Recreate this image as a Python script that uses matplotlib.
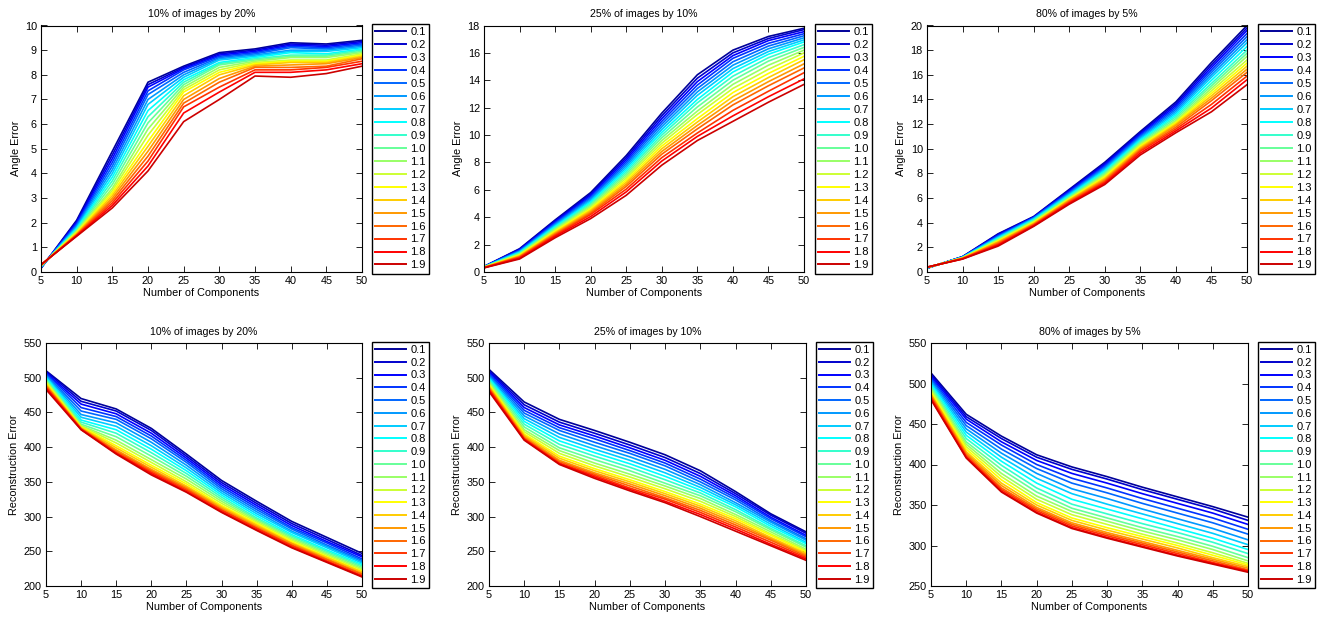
# ============================================================
# Angle / reconstruction error vs number of components
# 3 noise settings x 2 error measures, 19 sigma levels each
# ============================================================

import numpy as np
import matplotlib.pyplot as plt

# ============================================================
# Data (rows = number of components, columns = sigma 0.1 .. 1.9)
# ============================================================

components = [5, 10, 15, 20, 25, 30, 35, 40, 45, 50]
sigma_labels = ["0.1", "0.2", "0.3", "0.4", "0.5", "0.6", "0.7", "0.8", "0.9", "1.0",
                "1.1", "1.2", "1.3", "1.4", "1.5", "1.6", "1.7", "1.8", "1.9"]

panel_titles = ["10% of images by 20%", "25% of images by 10%", "80% of images by 5%"]

angle_10pct = [
    [0.15, 0.16, 0.17, 0.18, 0.19, 0.2, 0.21, 0.22, 0.23, 0.24, 0.25, 0.26, 0.27, 0.27, 0.28, 0.28, 0.29, 0.29, 0.3],
    [2.1, 2.05, 2.0, 1.95, 1.9, 1.85, 1.8, 1.76, 1.72, 1.68, 1.65, 1.62, 1.59, 1.56, 1.53, 1.51, 1.49, 1.47, 1.45],
    [4.9, 4.75, 4.6, 4.45, 4.3, 4.15, 4.0, 3.85, 3.7, 3.55, 3.4, 3.3, 3.2, 3.1, 3.0, 2.9, 2.8, 2.7, 2.6],
    [7.7, 7.6, 7.5, 7.35, 7.2, 7.0, 6.8, 6.55, 6.3, 6.05, 5.8, 5.55, 5.3, 5.1, 4.9, 4.7, 4.5, 4.3, 4.1],
    [8.35, 8.3, 8.25, 8.2, 8.1, 8.0, 7.9, 7.8, 7.7, 7.6, 7.5, 7.4, 7.3, 7.15, 7.0, 6.85, 6.7, 6.45, 6.1],
    [8.9, 8.85, 8.8, 8.75, 8.7, 8.65, 8.6, 8.5, 8.45, 8.4, 8.3, 8.2, 8.1, 8.0, 7.85, 7.7, 7.5, 7.3, 7.0],
    [9.05, 9.0, 8.95, 8.9, 8.85, 8.8, 8.75, 8.7, 8.65, 8.6, 8.55, 8.5, 8.45, 8.4, 8.35, 8.3, 8.2, 8.1, 7.95],
    [9.3, 9.25, 9.2, 9.15, 9.1, 9.0, 8.95, 8.9, 8.8, 8.75, 8.7, 8.6, 8.55, 8.5, 8.4, 8.3, 8.2, 8.1, 7.9],
    [9.25, 9.2, 9.15, 9.1, 9.05, 9.0, 8.95, 8.85, 8.8, 8.75, 8.7, 8.6, 8.55, 8.5, 8.45, 8.35, 8.3, 8.2, 8.05],
    [9.4, 9.35, 9.3, 9.25, 9.2, 9.15, 9.1, 9.05, 9.0, 8.95, 8.9, 8.85, 8.8, 8.75, 8.7, 8.65, 8.55, 8.45, 8.35],
]

angle_25pct = [
    [0.4, 0.4, 0.39, 0.39, 0.38, 0.38, 0.37, 0.37, 0.36, 0.36, 0.35, 0.35, 0.34, 0.34, 0.33, 0.32, 0.32, 0.31, 0.3],
    [1.7, 1.66, 1.62, 1.58, 1.54, 1.5, 1.46, 1.42, 1.38, 1.34, 1.3, 1.26, 1.22, 1.18, 1.14, 1.1, 1.06, 1.0, 0.95],
    [3.8, 3.73, 3.66, 3.59, 3.52, 3.45, 3.38, 3.31, 3.24, 3.17, 3.1, 3.03, 2.96, 2.89, 2.82, 2.75, 2.68, 2.6, 2.5],
    [5.8, 5.7, 5.6, 5.5, 5.4, 5.3, 5.2, 5.1, 5.0, 4.9, 4.8, 4.7, 4.6, 4.5, 4.4, 4.3, 4.2, 4.05, 3.9],
    [8.5, 8.35, 8.2, 8.05, 7.9, 7.75, 7.6, 7.45, 7.3, 7.15, 7.0, 6.85, 6.7, 6.55, 6.4, 6.25, 6.05, 5.85, 5.6],
    [11.6, 11.4, 11.2, 11.0, 10.8, 10.6, 10.4, 10.2, 10.0, 9.8, 9.6, 9.4, 9.2, 9.0, 8.8, 8.6, 8.35, 8.1, 7.8],
    [14.4, 14.15, 13.9, 13.65, 13.4, 13.15, 12.9, 12.6, 12.35, 12.05, 11.75, 11.5, 11.2, 10.95, 10.7, 10.45, 10.15, 9.9, 9.6],
    [16.2, 16.0, 15.8, 15.6, 15.35, 15.1, 14.85, 14.6, 14.3, 14.0, 13.7, 13.4, 13.1, 12.8, 12.5, 12.2, 11.8, 11.4, 11.0],
    [17.2, 17.05, 16.9, 16.7, 16.5, 16.3, 16.1, 15.9, 15.65, 15.4, 15.1, 14.8, 14.5, 14.2, 13.9, 13.6, 13.2, 12.8, 12.4],
    [17.8, 17.7, 17.55, 17.4, 17.25, 17.1, 16.95, 16.8, 16.6, 16.4, 16.2, 16.0, 15.75, 15.5, 15.2, 14.9, 14.55, 14.1, 13.7],
]

angle_80pct = [
    [0.3, 0.31, 0.31, 0.32, 0.32, 0.33, 0.33, 0.34, 0.34, 0.35, 0.35, 0.36, 0.36, 0.37, 0.37, 0.38, 0.38, 0.39, 0.4],
    [1.25, 1.24, 1.23, 1.22, 1.21, 1.2, 1.19, 1.18, 1.17, 1.16, 1.15, 1.14, 1.13, 1.12, 1.11, 1.1, 1.08, 1.06, 1.05],
    [3.1, 3.05, 3.0, 2.95, 2.9, 2.85, 2.8, 2.75, 2.7, 2.65, 2.6, 2.55, 2.5, 2.45, 2.4, 2.32, 2.25, 2.18, 2.1],
    [4.5, 4.47, 4.44, 4.41, 4.38, 4.35, 4.3, 4.25, 4.2, 4.15, 4.1, 4.05, 4.0, 3.95, 3.9, 3.85, 3.8, 3.75, 3.7],
    [6.7, 6.63, 6.56, 6.49, 6.42, 6.35, 6.28, 6.21, 6.14, 6.07, 6.0, 5.95, 5.9, 5.85, 5.8, 5.72, 5.65, 5.58, 5.5],
    [8.9, 8.8, 8.7, 8.6, 8.5, 8.4, 8.3, 8.2, 8.1, 8.0, 7.9, 7.8, 7.7, 7.6, 7.5, 7.4, 7.3, 7.2, 7.1],
    [11.4, 11.3, 11.2, 11.1, 11.0, 10.9, 10.8, 10.7, 10.6, 10.5, 10.4, 10.3, 10.2, 10.1, 10.0, 9.9, 9.8, 9.65, 9.5],
    [13.8, 13.65, 13.5, 13.35, 13.2, 13.05, 12.9, 12.75, 12.6, 12.45, 12.3, 12.2, 12.1, 12.0, 11.9, 11.75, 11.6, 11.45, 11.3],
    [17.0, 16.8, 16.6, 16.4, 16.2, 16.0, 15.8, 15.55, 15.3, 15.1, 14.9, 14.7, 14.5, 14.3, 14.1, 13.9, 13.6, 13.3, 13.0],
    [20.0, 19.8, 19.6, 19.35, 19.1, 18.85, 18.6, 18.3, 18.0, 17.75, 17.5, 17.2, 16.95, 16.7, 16.45, 16.2, 15.9, 15.6, 15.2],
]

recon_10pct = [
    [510, 509, 507, 506, 504, 503, 501, 500, 498, 497, 495, 494, 492, 491, 489, 488, 486, 485, 483],
    [470, 466, 462, 457, 452, 447, 443, 439, 436, 433, 431, 430, 429, 428, 427, 426.5, 426, 425.5, 425],
    [455, 452, 448, 444, 440, 435, 430, 425, 420, 415, 410, 406, 402, 399, 396, 394, 392, 391, 390],
    [427, 424, 420, 416, 412, 407, 402, 397, 392, 387, 382, 378, 374, 371, 368, 366, 364, 362, 360],
    [390, 387, 384, 381, 378, 374, 370, 366, 362, 358, 354, 350, 347, 344, 342, 340, 338, 336, 335],
    [352, 349, 346, 343, 340, 337, 334, 331, 328, 325, 322, 319, 316, 314, 312, 310, 309, 307, 306],
    [322, 319, 316, 313, 310, 307, 304, 301, 298, 296, 294, 292, 290, 288, 286, 284, 283, 281, 280],
    [293, 290, 287, 284, 282, 279, 277, 274, 272, 270, 268, 266, 264, 262, 261, 259, 258, 256, 255],
    [270, 267, 264, 262, 259, 257, 255, 252, 250, 248, 246, 244, 242, 241, 239, 238, 236, 235, 234],
    [247, 244, 242, 239, 237, 235, 233, 231, 229, 227, 225, 223, 221, 220, 218, 217, 215, 214, 213],
]

recon_25pct = [
    [512, 510, 508, 506, 504, 502, 500, 499, 497, 495, 493, 491, 490, 488, 486, 485, 483, 482, 480],
    [465, 461, 457, 453, 449, 445, 441, 437, 433, 429, 425, 422, 419, 417, 415, 413, 412, 411, 410],
    [440, 436, 432, 428, 424, 419, 414, 409, 404, 399, 395, 391, 387, 384, 381, 379, 377, 376, 375],
    [424, 420, 416, 412, 407, 402, 397, 392, 387, 382, 377, 373, 369, 366, 363, 361, 359, 357, 355],
    [407, 403, 399, 395, 391, 386, 381, 376, 371, 366, 361, 357, 353, 350, 347, 344, 341, 339, 337],
    [389, 385, 381, 377, 373, 368, 363, 358, 353, 348, 344, 340, 336, 333, 330, 327, 325, 322, 320],
    [366, 362, 358, 354, 350, 346, 342, 338, 334, 330, 326, 322, 318, 315, 312, 309, 306, 303, 300],
    [336, 333, 330, 327, 324, 320, 317, 314, 310, 307, 303, 300, 297, 294, 291, 288, 285, 282, 279],
    [304, 302, 299, 297, 294, 292, 289, 286, 283, 281, 278, 275, 273, 270, 268, 266, 263, 260, 258],
    [278, 276, 273, 271, 268, 266, 263, 261, 258, 256, 253, 251, 249, 247, 245, 243, 241, 239, 237],
]

recon_80pct = [
    [513, 511, 509, 507, 505, 503, 501, 499, 497, 495, 493, 491, 489, 487, 486, 484, 483, 481, 480],
    [462, 459, 456, 452, 448, 444, 440, 436, 432, 428, 425, 422, 419, 416, 414, 412, 410, 409, 408],
    [435, 432, 428, 424, 419, 414, 409, 404, 399, 394, 389, 385, 381, 377, 374, 371, 369, 367, 366],
    [412, 409, 405, 400, 395, 389, 383, 377, 371, 366, 361, 357, 353, 350, 347, 345, 343, 341, 340],
    [397, 394, 389, 383, 377, 370, 364, 357, 351, 346, 342, 338, 334, 331, 328, 326, 324, 322, 321],
    [385, 382, 377, 371, 365, 358, 351, 345, 339, 334, 330, 326, 322, 319, 316, 314, 312, 310, 309],
    [372, 369, 364, 358, 352, 345, 339, 333, 327, 322, 318, 314, 311, 308, 305, 303, 301, 299, 298],
    [360, 357, 352, 346, 340, 333, 327, 321, 316, 311, 307, 303, 300, 297, 294, 292, 290, 288, 287],
    [348, 345, 340, 334, 328, 321, 315, 309, 304, 299, 295, 291, 288, 285, 283, 281, 279, 278, 277],
    [335, 331, 326, 320, 314, 307, 301, 295, 290, 285, 281, 278, 276, 274, 272, 270, 269, 268, 267],
]

# ============================================================
# MATLAB-style jet(m) colour table
# ============================================================

def matlab_jet(m):
    n = int(np.ceil(m / 4))
    u = np.concatenate([np.arange(1, n + 1) / n, np.ones(n - 1), np.arange(n, 0, -1) / n])
    g = int(np.ceil(n / 2)) - (1 if m % 4 == 1 else 0) + np.arange(1, len(u) + 1)
    r = g + n
    b = g - n
    out = np.zeros((m, 3))
    for idx, ch in ((r, 0), (g, 1), (b, 2)):
        keep = (idx >= 1) & (idx <= m)
        out[idx[keep] - 1, ch] = u[keep]
    return out

# ============================================================
# Figure setup
# ============================================================

plt.rcParams['font.family'] = ['Liberation Sans', 'DejaVu Sans']
plt.rcParams['font.size'] = 7.5

W, H = 1323, 617
fig = plt.figure(figsize=(W / 100, H / 100), dpi=100)

colors = matlab_jet(len(sigma_labels))

# axes boxes in pixels: left, top, right, bottom
boxes = [
    (41, 25.5, 362, 272), (484, 25.5, 804, 272), (927, 25.5, 1247, 272),
    (46, 343, 362, 586), (489, 343, 806, 586), (931, 343, 1248, 586),
]
legend_x = [372, 815, 1258, 372, 816, 1258]
legend_spacing = [0.265, 0.265, 0.265, 0.25, 0.25, 0.25]

panels = [
    (angle_10pct, "Angle Error", (0, 10), np.arange(0, 11, 1)),
    (angle_25pct, "Angle Error", (0, 18), np.arange(0, 19, 2)),
    (angle_80pct, "Angle Error", (0, 20), np.arange(0, 21, 2)),
    (recon_10pct, "Reconstruction Error", (200, 550), np.arange(200, 551, 50)),
    (recon_25pct, "Reconstruction Error", (200, 550), np.arange(200, 551, 50)),
    (recon_80pct, "Reconstruction Error", (250, 550), np.arange(250, 551, 50)),
]

for i, (data, ylabel, ylim, yticks) in enumerate(panels):

    l, t, r, b = boxes[i]
    ax = fig.add_axes([l / W, (H - b) / H, (r - l) / W, (b - t) / H])

    values = np.array(data).T

    for k, label in enumerate(sigma_labels):
        ax.plot(components, values[k], color=colors[k], linewidth=1.2, label=label)

    ax.set_xlim(5, 50)
    ax.set_ylim(*ylim)
    ax.set_xticks(components)
    ax.set_yticks(yticks)

    ax.tick_params(direction='in', top=True, right=True, length=4, width=0.6, pad=3, labelsize=7.8)
    for spine in ax.spines.values():
        spine.set_linewidth(0.8)

    ax.set_title(panel_titles[i % 3], fontsize=7.6, pad=6)
    ax.set_xlabel("Number of Components", fontsize=7.8, labelpad=1)
    ax.set_ylabel(ylabel, fontsize=7.8, labelpad=3)

    lx = legend_x[i]
    leg = ax.legend(
        loc='upper left',
        bbox_to_anchor=(lx / W, (H - t + 1.5) / H),
        bbox_transform=fig.transFigure,
        borderaxespad=0,
        fontsize=8,
        handlelength=2.8,
        handletextpad=0.35,
        labelspacing=legend_spacing[i],
        borderpad=0.3,
        fancybox=False,
        framealpha=1,
    )
    leg.get_frame().set_edgecolor('black')
    leg.get_frame().set_linewidth(1.0)
    for ln in leg.get_lines():
        ln.set_linewidth(1.4)

plt.savefig("out.png", dpi=100)
